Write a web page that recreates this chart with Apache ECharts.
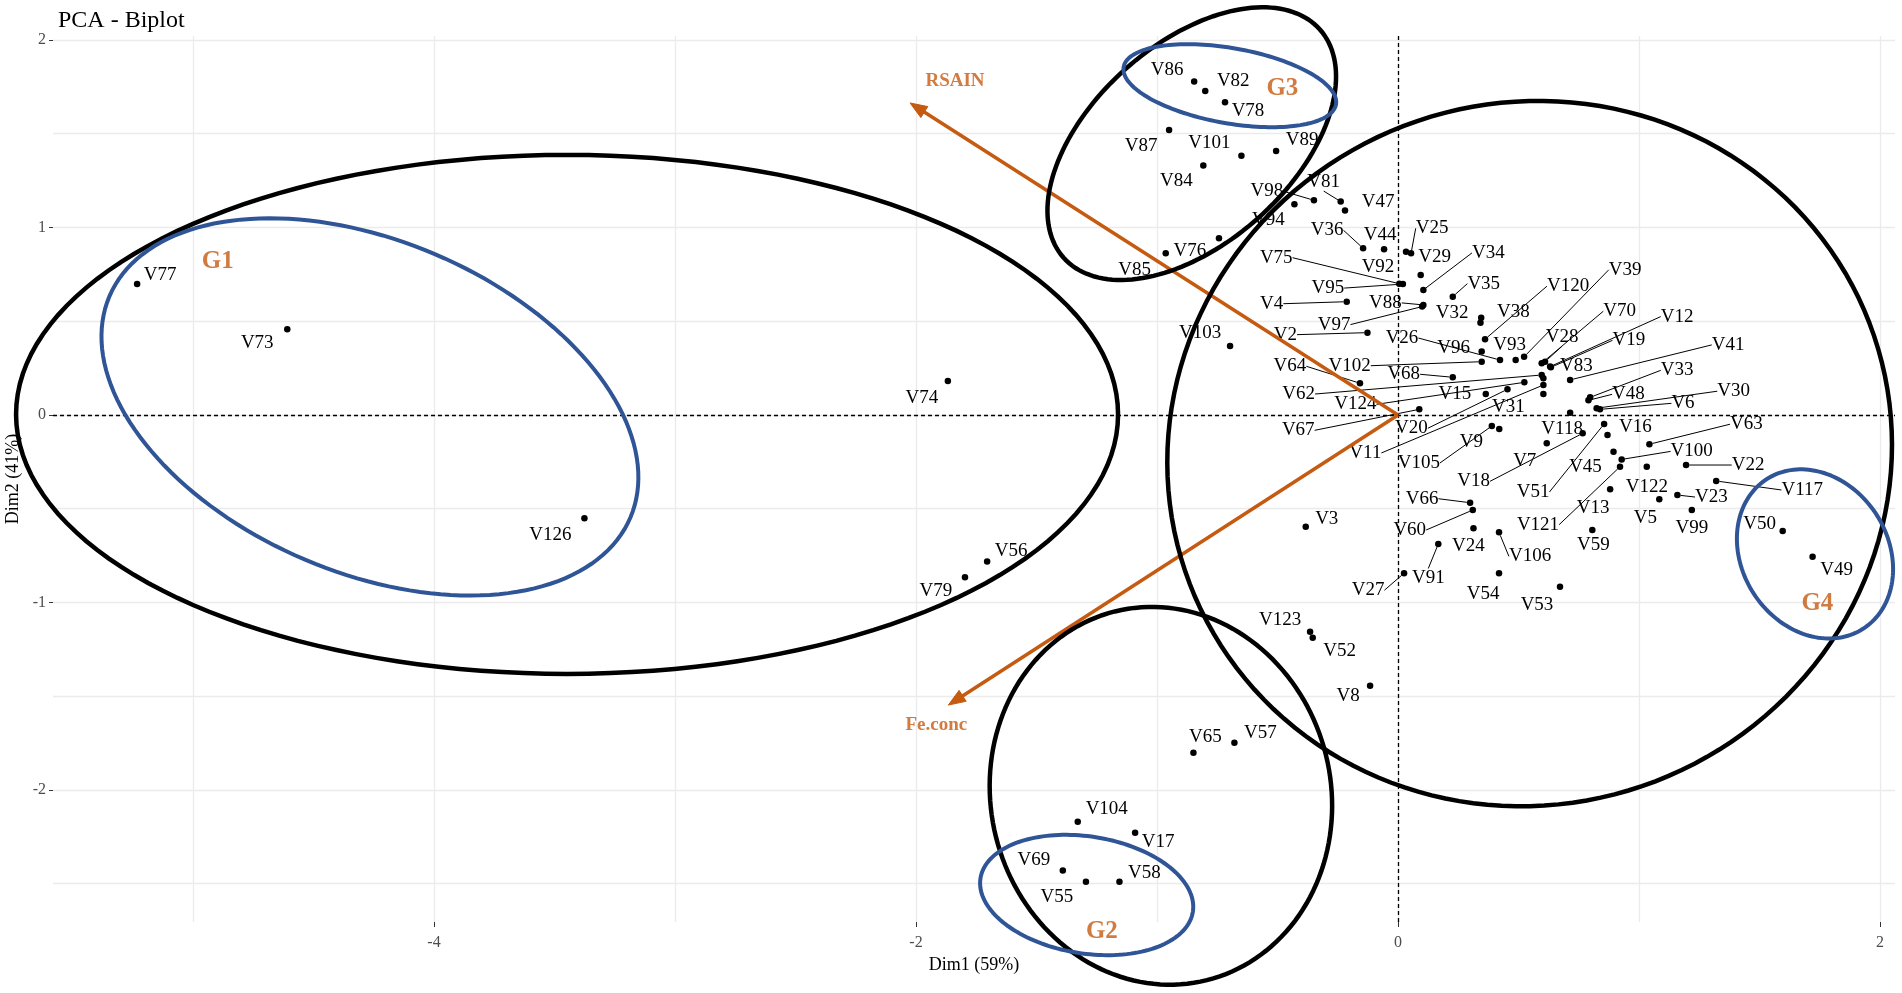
<!DOCTYPE html>
<html lang="en">
<head>
    <meta charset="UTF-8">
    <title>PCA - Biplot</title>
    <style>
        html, body { margin: 0; padding: 0; background: #fff; }
        #main { width: 1902px; height: 993px; }
    </style>
    <script src="https://cdn.jsdelivr.net/npm/echarts@6/dist/echarts.min.js"></script>
</head>
<body>
<div id="main"></div>
<script type="text/javascript">

    // individuals (Dim1, Dim2)
    var pointNames = ['V86','V82','V78','V87','V101','V89','V84','V98','V94','V81',
        'V47','V76','V85','V36','V44','V25','V92','V29','V75','V95',
        'V34','V35','V4','V88','V97','V2','V32','V38','V103','V26',
        'V96','V93','V120','V39','V102','V64','V68','V62','V124','V15',
        'V31','V67','V20','V11','V105','V9','V18','V7','V118','V51',
        'V16','V45','V121','V13','V59','V66','V60','V24','V106','V91',
        'V27','V54','V53','V3','V63','V100','V22','V122','V23','V117',
        'V5','V99','V50','V49','V28','V70','V12','V19','V83','V41',
        'V33','V48','V30','V6','V77','V73','V74','V126','V56','V79',
        'V123','V52','V8','V65','V57','V104','V17','V69','V55','V58'];
    var dim1 = [-0.846,-0.800,-0.718,-0.950,-0.650,-0.506,-0.808,-0.349,-0.430,-0.238,
        -0.220,-0.743,-0.964,-0.145,-0.058,0.054,0.033,0.094,0.005,0.020,
        0.105,0.227,-0.213,0.105,0.100,-0.127,0.345,0.342,-0.697,0.423,
        0.347,0.488,0.361,0.523,0.347,-0.158,0.227,0.596,0.524,0.364,
        0.603,0.088,0.454,0.603,0.389,0.420,0.766,0.617,0.714,0.855,
        0.869,0.894,0.921,0.880,0.806,0.299,0.310,0.313,0.419,0.167,
        0.025,0.419,0.672,-0.383,1.043,0.928,1.195,1.032,1.159,1.320,
        1.084,1.219,1.596,1.720,0.610,0.596,0.631,0.634,0.603,0.714,
        0.797,0.790,0.824,0.838,-5.232,-4.609,-1.868,-3.376,-1.705,-1.797,
        -0.365,-0.354,-0.116,-0.849,-0.679,-1.329,-1.091,-1.391,-1.295,-1.156];
    var dim2 = [1.778,1.728,1.668,1.520,1.383,1.408,1.330,1.145,1.124,1.138,
        1.090,0.942,0.862,0.889,0.884,0.862,0.871,0.747,0.700,0.698,
        0.667,0.631,0.604,0.587,0.578,0.439,0.518,0.492,0.368,0.293,
        0.338,0.293,0.404,0.310,0.284,0.169,0.201,0.213,0.174,0.112,
        0.112,0.030,0.137,0.160,-0.059,-0.075,-0.098,-0.151,0.012,-0.048,
        -0.107,-0.196,-0.276,-0.396,-0.613,-0.468,-0.507,-0.604,-0.626,-0.688,
        -0.844,-0.844,-0.916,-0.596,-0.156,-0.237,-0.267,-0.276,-0.427,-0.352,
        -0.450,-0.507,-0.619,-0.756,0.284,0.276,0.258,0.254,0.196,0.187,
        0.094,0.078,0.036,0.030,0.699,0.457,0.181,-0.551,-0.782,-0.866,
        -1.156,-1.188,-1.444,-1.801,-1.748,-2.169,-2.228,-2.430,-2.489,-2.489];

    // variables (arrows)
    var varNames = ['RSAIN', 'Fe.conc'];
    var varDim1 = [-2.025, -1.866];
    var varDim2 = [1.664, -1.547];

    // axis ticks and grid
    var xTicks = [-4, -2, 0, 2];
    var yTicks = [-2, -1, 0, 1, 2];
    var xGrid = [-5, -4, -3, -2, -1, 0, 1, 2];
    var yGrid = [-2.5, -2, -1.5, -1, -0.5, 0, 0.5, 1, 1.5, 2];

    // group tags
    var groupNames = ['G1', 'G2', 'G3', 'G4'];
    var groupDim1 = [-4.897, -1.229, -0.480, 1.740];
    var groupDim2 = [0.818, -2.756, 1.742, -1.004];

    var serif = '"Liberation Serif", "Times New Roman", serif';
    var orange = '#C55A11';
    var blue = '#2F5597';

    // label placement (px offset of label centre from its point) - repel-style
    var labelNudge = {
        V86:[-27,-12], V82:[28,-10], V78:[23,9], V87:[-28,16], V101:[-32,-13], V89:[26,-11],
        V84:[-27,15], V98:[-47,-9], V94:[-26,16], V81:[-17,-20], V47:[33,-9], V76:[-29,13],
        V85:[-31,17], V36:[-36,-18], V44:[-4,-14], V25:[21,-25], V92:[-28,15], V29:[14,-18],
        V75:[-123,-26], V95:[-75,4], V34:[65,-37], V35:[31,-13], V4:[-75,2], V88:[-38,-2],
        V97:[-88,18], V2:[-82,2], V32:[-29,-5], V38:[33,-11], V103:[-30,-13], V26:[-98,-22],
        V96:[-28,-4], V93:[-6,-15], V120:[83,-53], V39:[101,-87], V102:[-132,4], V64:[-70,-17],
        V68:[-49,-3], V62:[-243,19], V124:[-169,22], V15:[-31,0], V31:[-35,13], V67:[-121,21],
        V20:[-96,39], V11:[-178,68], V105:[-73,37], V9:[-28,13], V18:[-109,48], V7:[-22,18],
        V118:[-8,16], V51:[-71,68], V16:[28,-8], V45:[-28,15], V121:[-82,58], V13:[-17,19],
        V59:[1,15], V66:[-48,-4], V60:[-63,20], V24:[-5,18], V106:[31,24], V91:[-10,34],
        V27:[-36,17], V54:[-16,21], V53:[-23,18], V3:[21,-8], V63:[97,-20], V100:[70,-8],
        V22:[62,0], V122:[0,20], V23:[34,2], V117:[86,9], V5:[-14,19], V99:[0,18],
        V50:[-23,-7], V49:[24,13], V28:[17,-25], V70:[78,-52], V12:[127,-50], V19:[78,-27],
        V83:[33,-12], V41:[158,-35], V33:[87,-27], V48:[40,-6], V30:[137,-17], V6:[83,-6],
        V77:[23,-9], V73:[-30,14], V74:[-26,17], V126:[-34,17], V56:[24,-11], V79:[-29,14],
        V123:[-30,-12], V52:[27,13], V8:[-22,10], V65:[12,-16], V57:[26,-10], V104:[29,-13],
        V17:[23,9], V69:[-29,-11], V55:[-29,15], V58:[25,-9]
    };
    var leaderNames = ['V98','V81','V36','V25','V75','V95','V34','V35','V4','V88','V97','V2',
        'V26','V120','V39','V102','V64','V68','V62','V124','V67','V20','V11','V105','V18',
        'V51','V121','V66','V60','V106','V91','V27','V63','V100','V22','V23','V117','V28',
        'V70','V12','V19','V41','V33','V48','V30','V6'];

    // hand drawn group rings: centre in data units, semi-axes in px, tilt in degrees
    var rings = [
        {cx: -3.448, cy: 0.003, a: 551, b: 259.5, angle: 0, color: '#000', width: 4.5},
        {cx: -4.266, cy: 0.043, a: 283, b: 166, angle: 23, color: blue, width: 4},
        {cx: -0.984, cy: -2.031, a: 190, b: 170, angle: 76, color: '#000', width: 4.5},
        {cx: -1.292, cy: -2.560, a: 107.5, b: 58.5, angle: 9, color: blue, width: 4},
        {cx: -0.856, cy: 1.447, a: 171.6, b: 99.8, angle: -41.7, color: '#000', width: 4.5},
        {cx: -0.698, cy: 1.756, a: 107.8, b: 37.6, angle: 10, color: blue, width: 4},
        {cx: 0.546, cy: -0.206, a: 364, b: 351, angle: -21, color: '#000', width: 4.5},
        {cx: 1.730, cy: -0.741, a: 89, b: 73, angle: 57, color: blue, width: 4}
    ];
    var varNudge = [[45, -22], [-12, 20]];

    var myChart = echarts.init(document.getElementById('main'));

    var gridLines = [];
    xGrid.forEach(function (v) {
        gridLines.push({xAxis: v, lineStyle: {color: '#EBEBEB', width: 1.3, type: 'solid'}});
    });
    yGrid.forEach(function (v) {
        gridLines.push({yAxis: v, lineStyle: {color: '#EBEBEB', width: 1.3, type: 'solid'}});
    });
    // zero reference lines
    gridLines.push({xAxis: 0, lineStyle: {color: '#000', width: 1.3, type: [4, 3]}});
    gridLines.push({yAxis: 0, lineStyle: {color: '#000', width: 1.3, type: [4, 3]}});

    var points = pointNames.map(function (n, i) {
        return {
            name: n,
            value: [dim1[i], dim2[i]],
            labelLine: {show: leaderNames.indexOf(n) >= 0}
        };
    });

    function nudgeLayout(list) {
        return function (p) {
            var o = list(p.dataIndex);
            return {
                x: p.rect.x + p.rect.width / 2 + o[0],
                y: p.rect.y + p.rect.height / 2 + o[1],
                align: 'center', verticalAlign: 'middle'
            };
        };
    }

    var option = {
        animation: false,
        title: {
            text: 'PCA - Biplot',
            left: 53, top: 4,
            textStyle: {fontFamily: serif, fontSize: 24, fontWeight: 'normal', color: '#000'}
        },
        grid: {left: 53, right: 7, top: 36, bottom: 71, outerBoundsMode: 'none'},
        xAxis: {
            type: 'value', min: -5.581, max: 2.062,
            name: 'Dim1 (59%)', nameLocation: 'middle', nameGap: 34,
            nameTextStyle: {fontFamily: serif, fontSize: 18, color: '#000'},
            axisLine: {show: false, onZero: false},
            axisTick: {show: true, customValues: xTicks, length: 5, lineStyle: {color: '#333'}},
            axisLabel: {customValues: xTicks, margin: 13, fontFamily: serif, fontSize: 16, color: '#4D4D4D'},
            splitLine: {show: false}
        },
        yAxis: {
            type: 'value', min: -2.704, max: 2.021,
            name: 'Dim2 (41%)', nameLocation: 'middle', nameGap: 30, nameRotate: 90,
            nameTextStyle: {fontFamily: serif, fontSize: 18, color: '#000'},
            axisLine: {show: false, onZero: false},
            axisTick: {show: true, customValues: yTicks, length: 4, lineStyle: {color: '#333'}},
            axisLabel: {customValues: yTicks, margin: 7, fontFamily: serif, fontSize: 16, color: '#4D4D4D'},
            splitLine: {show: false}
        },
        series: [
            {
                // background grid + dashed zero lines
                type: 'scatter', data: [], z: 0, silent: true,
                markLine: {symbol: 'none', silent: true, label: {show: false}, data: gridLines}
            },
            {
                type: 'scatter',
                symbolSize: 6.5,
                z: 5,
                silent: true,
                itemStyle: {color: '#000', opacity: 1},
                data: points,
                label: {
                    show: true, formatter: '{b}',
                    fontFamily: serif, fontSize: 19, color: '#000'
                },
                labelLine: {show: false, lineStyle: {color: '#000', width: 1}},
                labelLayout: nudgeLayout(function (i) {
                    return labelNudge[pointNames[i]] || [20, -10];
                })
            },
            {
                // variable arrows (origin -> loading)
                type: 'custom',
                coordinateSystem: 'cartesian2d',
                z: 6,
                silent: true,
                clip: false,
                data: varNames.map(function (n, i) { return [varDim1[i], varDim2[i]]; }),
                renderItem: function (params, api) {
                    var o = api.coord([0, 0]);
                    var e = api.coord([api.value(0), api.value(1)]);
                    var dx = e[0] - o[0], dy = e[1] - o[1];
                    var len = Math.sqrt(dx * dx + dy * dy);
                    var ux = dx / len, uy = dy / len;
                    var hl = 17, hw = 6.5;
                    var bx = e[0] - ux * hl, by = e[1] - uy * hl;
                    return {
                        type: 'group',
                        children: [
                            {
                                type: 'line',
                                shape: {x1: o[0], y1: o[1], x2: bx + ux * 2, y2: by + uy * 2},
                                style: {stroke: orange, lineWidth: 3.5}
                            },
                            {
                                type: 'polygon',
                                shape: {points: [
                                    [e[0], e[1]],
                                    [bx - uy * hw, by + ux * hw],
                                    [bx + uy * hw, by - ux * hw]
                                ]},
                                style: {fill: orange, stroke: orange, lineWidth: 1}
                            }
                        ]
                    };
                }
            },
            {
                // variable names
                type: 'scatter',
                symbolSize: 0,
                z: 6,
                silent: true,
                clip: false,
                data: varNames.map(function (n, i) { return {name: n, value: [varDim1[i], varDim2[i]]}; }),
                label: {
                    show: true, formatter: '{b}',
                    fontFamily: serif, fontSize: 19, fontWeight: 'bold', color: orange
                },
                labelLayout: nudgeLayout(function (i) { return varNudge[i]; })
            },
            {
                // group rings
                type: 'custom',
                coordinateSystem: 'cartesian2d',
                z: 10,
                silent: true,
                clip: false,
                data: rings.map(function (r) { return [r.cx, r.cy]; }),
                renderItem: function (params, api) {
                    var r = rings[params.dataIndex];
                    var c = api.coord([api.value(0), api.value(1)]);
                    var t = r.angle * Math.PI / 180;
                    var pts = [];
                    for (var k = 0; k < 160; k++) {
                        var s = k / 160 * Math.PI * 2;
                        pts.push([
                            c[0] + r.a * Math.cos(s) * Math.cos(t) - r.b * Math.sin(s) * Math.sin(t),
                            c[1] + r.a * Math.cos(s) * Math.sin(t) + r.b * Math.sin(s) * Math.cos(t)
                        ]);
                    }
                    return {
                        type: 'polygon',
                        shape: {points: pts},
                        style: {fill: 'none', stroke: r.color, lineWidth: r.width}
                    };
                }
            },
            {
                // group tags
                type: 'scatter',
                symbolSize: 0,
                z: 11,
                silent: true,
                clip: false,
                data: groupNames.map(function (g, i) { return {name: g, value: [groupDim1[i], groupDim2[i]]}; }),
                label: {
                    show: true, position: 'inside', formatter: '{b}',
                    fontFamily: serif, fontSize: 25, fontWeight: 'bold', color: orange
                }
            }
        ]
    };

    myChart.setOption(option);

</script>
</body>
</html>
